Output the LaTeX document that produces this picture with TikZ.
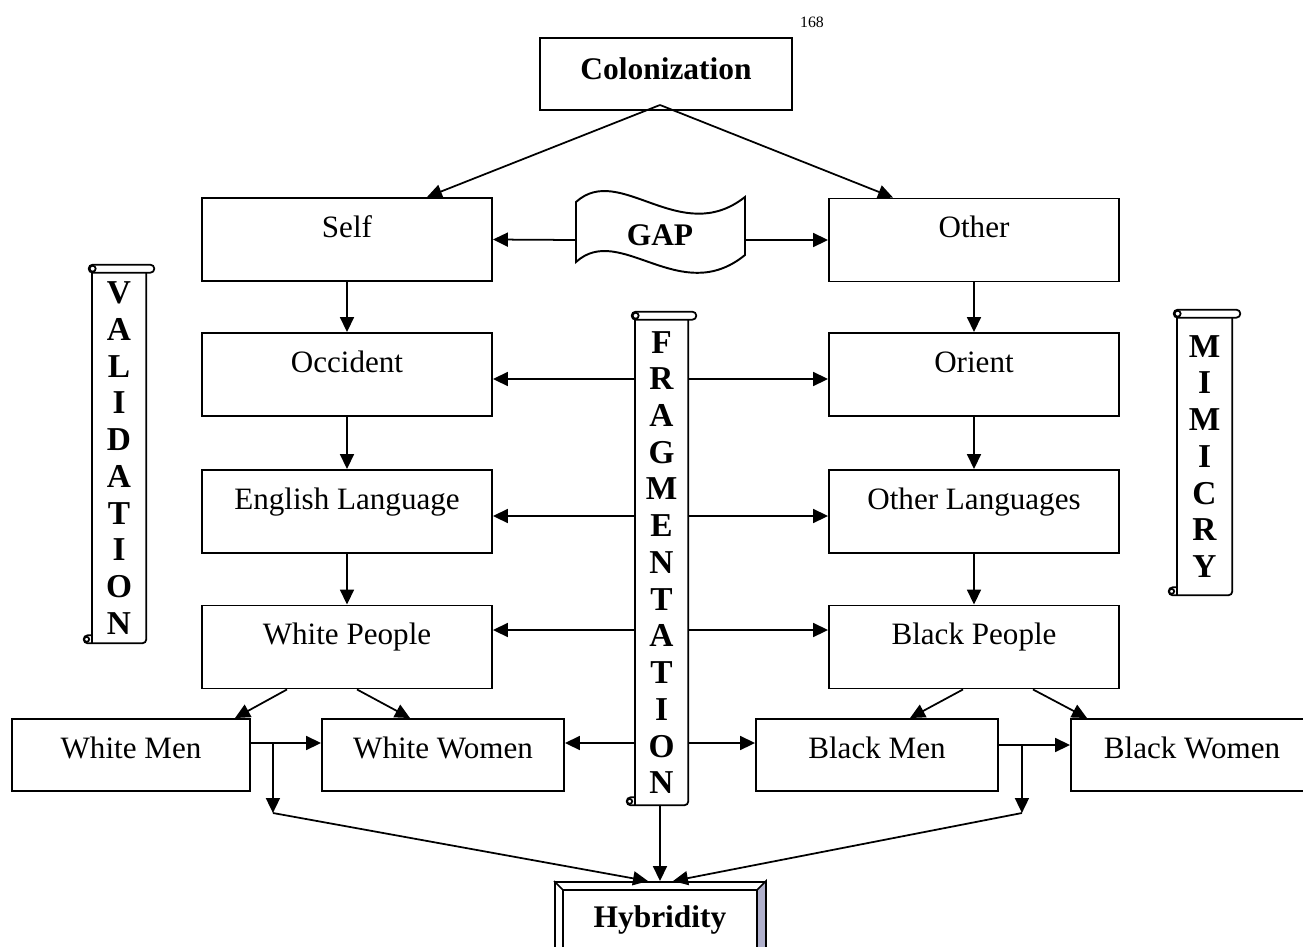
\documentclass[tikz,border=0pt]{standalone}
\usepackage{fontspec}
\setmainfont{Liberation Serif}
\usetikzlibrary{arrows.meta, positioning, calc}
\definecolor{bevelgray}{RGB}{176,176,204}
\tikzset{
    basebox/.style={draw, rectangle, line width=1.1pt, inner sep=0pt, font=\fontsize{17.7}{21}\selectfont},
    conceptbox/.style={basebox, minimum width=5.8cm, minimum height=1.66cm, text height=0.78cm, text depth=0.88cm},
    smallbox/.style={basebox, minimum width=4.84cm, minimum height=1.44cm, text height=0.78cm, text depth=0.66cm},
    titlebox/.style={basebox, minimum width=5.04cm, minimum height=1.44cm, text height=0.82cm, text depth=0.62cm, font=\bfseries\fontsize{17.9}{21}\selectfont},
    resultbox/.style={basebox, minimum width=4.2cm, minimum height=1.6cm, text height=0.9cm, text depth=0.7cm, font=\bfseries\fontsize{17.9}{21}\selectfont},
    scrolltext/.style={rectangle, inner sep=0pt, align=center, font=\bfseries\fontsize{19}{20.9}\selectfont},
    scrollline/.style={line width=1pt},
    linkarrow/.style={-{Triangle[length=0.3cm, width=0.28cm]}, line width=1pt},
}
% scroll outline round a named scroll node
\newcommand{\scrollaround}[1]{%
    \draw[scrollline, rounded corners=0.08cm] ($(#1.north west)+(-3,-8)$) rectangle ($(#1.north east)+(8,0)$);
    \draw[scrollline] ($(#1.north west)+(1,-4)$) circle[radius=3];
    \draw[scrollline] (#1.north west) -- (#1.south west);
    \draw[scrollline, rounded corners=0.08cm] (#1.north east) -- (#1.south east) -- ($(#1.south west)+(-8,0)$) -- ($(#1.south west)+(-8,-8)$) -- ($(#1.south west)+(0,-8)$);
    \draw[scrollline] ($(#1.south west)+(-5,-4)$) circle[radius=2.5];
}

\begin{document}
\begin{tikzpicture}[x=0.02cm, y=-0.02cm]
    \useasboundingbox (0,0) rectangle (1303,947);

    % page number
    \node[font=\fontsize{9}{10}\selectfont] (pagenum) at (812,22) {168};

    % Top
    \node[titlebox] (colon) at (666,74) {Colonization};
    \coordinate (apex) at (660,105);

    % Gap banner
    \node[rectangle, minimum width=3.38cm, minimum height=1.2cm, inner sep=0pt, text depth=0.2cm, font=\bfseries\fontsize{17.9}{21}\selectfont] (gap) at (660,240) {GAP};
    \draw[line width=1.1pt] (576,202) .. controls (620,162) and (680,248) .. (745,197) -- (745,255)
        .. controls (680,308) and (620,222) .. (576,262) -- cycle;

    % Self side
    \node[conceptbox] (self) at (347,239.5) {Self};
    \node[conceptbox] (occ) at (347,374.5) {Occident};
    \node[conceptbox] (english) at (347,511.5) {English Language};
    \node[conceptbox] (whitep) at (347,647) {White People};

    % Other side
    \node[conceptbox] (other) at (974,240) {Other};
    \node[conceptbox] (orient) at (974,374.5) {Orient};
    \node[conceptbox] (otherlang) at (974,511.5) {Other Languages};
    \node[conceptbox] (blackp) at (974,647) {Black People};

    % Bottom row
    \node[smallbox, minimum width=4.76cm] (wmen) at (131,755) {White Men};
    \node[smallbox] (wwomen) at (443,755) {White Women};
    \node[smallbox] (bmen) at (877,755) {Black Men};
    \node[smallbox] (bwomen) at (1192,755) {Black Women};

    % Scrolls
    \node[scrolltext, minimum width=1.08cm, minimum height=7.4cm] (valid) at (119,458) {V\\A\\L\\I\\D\\A\\T\\I\\O\\N};
    \node[scrolltext, minimum width=1.06cm, minimum height=9.7cm] (frag) at (661.5,562.5) {F\\R\\A\\G\\M\\E\\N\\T\\A\\T\\I\\O\\N};
    \node[scrolltext, minimum width=1.1cm, minimum height=5.54cm] (mimic) at (1204.5,456.5) {M\\I\\M\\I\\C\\R\\Y};
    \scrollaround{valid}
    \scrollaround{frag}
    \scrollaround{mimic}

    % Hybridity
    \node[resultbox] (hyb) at (660,922) {Hybridity};
    \draw[line width=1pt, fill=bevelgray] (hyb.north east) -- (hyb.south east) -- ($(hyb.south east)+(-9,-9)$) -- ($(hyb.north east)+(-9,9)$) -- cycle;
    \draw[line width=1pt, fill=bevelgray] (hyb.south west) -- (hyb.south east) -- ($(hyb.south east)+(-9,-9)$) -- ($(hyb.south west)+(9,-9)$) -- cycle;
    \draw[line width=1pt] ($(hyb.north west)+(9,9)$) rectangle ($(hyb.south east)+(-9,-9)$);
    \draw[line width=1pt] (hyb.north west) -- ($(hyb.north west)+(9,9)$);
    \draw[line width=1pt] (hyb.south west) -- ($(hyb.south west)+(9,-9)$);

    % Arrows from colonization and gap
    \draw[linkarrow] (apex) -- ($(self.north)+(80,0)$);
    \draw[linkarrow] (apex) -- ($(other.north)+(-81,0)$);
    \draw[linkarrow] (gap.west) -- (self.east);
    \draw[linkarrow] (gap.east) -- (other.west);

    % Vertical chains
    \draw[linkarrow] (self) -- (occ);
    \draw[linkarrow] (occ) -- (english);
    \draw[linkarrow] (english) -- (whitep);
    \draw[linkarrow] (other) -- (orient);
    \draw[linkarrow] (orient) -- (otherlang);
    \draw[linkarrow] (otherlang) -- (blackp);

    % Fragmentation arrows
    \coordinate (occR) at ([yshift=-0.09cm]occ.east);
    \coordinate (engR) at ([yshift=-0.09cm]english.east);
    \coordinate (wpR) at ([yshift=0.34cm]whitep.east);
    \coordinate (wwR) at ([yshift=0.24cm]wwomen.east);
    \coordinate (oriL) at ([yshift=-0.09cm]orient.west);
    \coordinate (olL) at ([yshift=-0.09cm]otherlang.west);
    \coordinate (bpL) at ([yshift=0.34cm]blackp.west);
    \coordinate (bmL) at ([yshift=0.24cm]bmen.west);
    \foreach \t in {occR, engR, wpR, wwR}
        \draw[linkarrow] (frag.west |- \t) -- (\t);
    \foreach \t in {oriL, olL, bpL, bmL}
        \draw[linkarrow] (frag.east |- \t) -- (\t);

    % People split
    \draw[linkarrow] ($(whitep.south)+(-60,0)$) -- ($(wmen.north)+(104,0)$);
    \draw[linkarrow] ($(whitep.south)+(10,0)$) -- ($(wwomen.north)+(-33,0)$);
    \draw[linkarrow] ($(blackp.south)+(-11,0)$) -- ($(bmen.north)+(33,0)$);
    \draw[linkarrow] ($(blackp.south)+(59,0)$) -- ($(bwomen.north)+(-105,0)$);

    % Men to women and drops
    \coordinate (wbr) at ($(wmen.east)+(22,-12)$);
    \coordinate (wdrop) at ($(wbr)+(0,70)$);
    \coordinate (bbr) at ($(bmen.east)+(23,-10)$);
    \coordinate (bdrop) at ($(bbr)+(0,68)$);
    \draw[linkarrow] ($(wmen.east)+(0,-12)$) -- ($(wwomen.west)+(0,-12)$);
    \draw[linkarrow] ($(bmen.east)+(0,-10)$) -- ($(bwomen.west)+(0,-10)$);
    \draw[linkarrow] (wbr) -- (wdrop);
    \draw[linkarrow] (bbr) -- (bdrop);

    % Into hybridity
    \draw[linkarrow] (wdrop) -- ($(hyb.north)+(-12,0)$);
    \draw[linkarrow] (bdrop) -- ($(hyb.north)+(13,0)$);
    \draw[linkarrow] ([xshift=-0.03cm]frag.south) -- (hyb.north);
\end{tikzpicture}
\end{document}
